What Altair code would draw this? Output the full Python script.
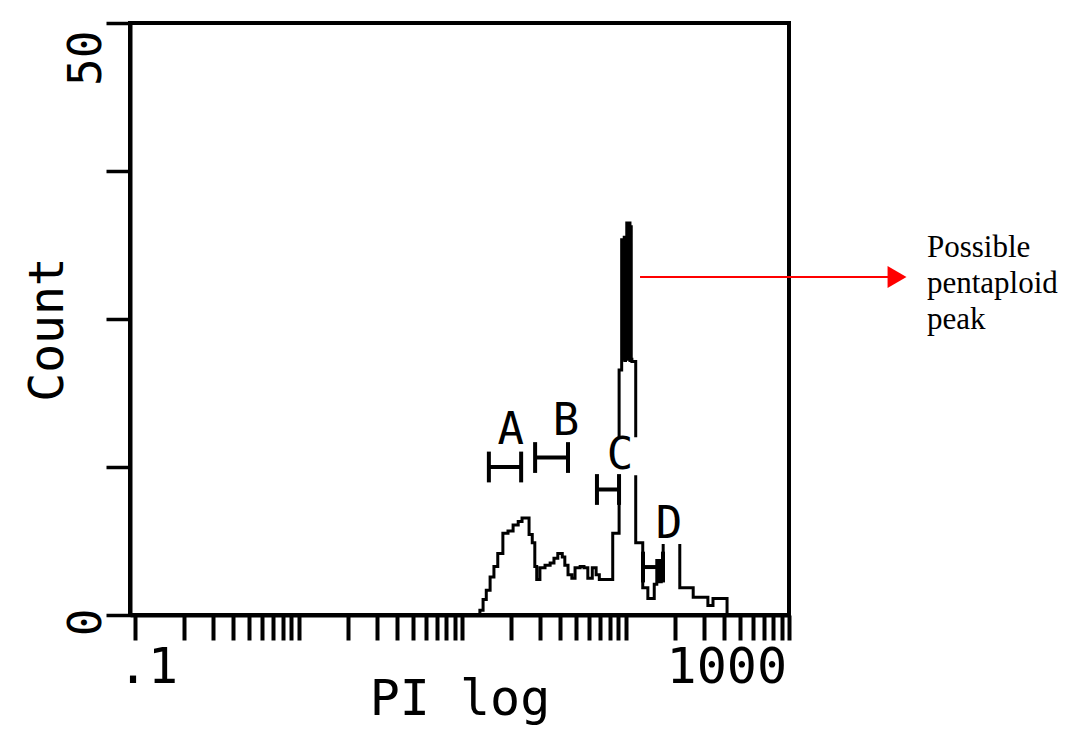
import altair as alt
import pandas as pd

# PI histogram: channel number on a 1024-channel, four-decade log scale (.1 - 1000),
# and the event count held from that channel up to the next listed one.
channel = [0, 540, 545, 550, 556, 562, 568, 576, 584, 592, 600, 606, 617, 622, 626, 629,
           634, 642, 650, 656, 662, 669, 673, 678, 684, 689, 697, 703, 709, 716, 722, 727,
           748, 758,
           762, 763, 764, 765, 766, 767, 768, 769, 770, 771, 772, 773, 774, 775, 776, 777,
           778, 784, 795, 803, 813, 817, 820, 824, 827, 838, 845, 853, 874, 897, 905, 927, 1024]
count = [0, 0.4, 1.3, 2.1, 3.2, 4.1, 5.2, 6.9, 7.1, 7.6, 7.9, 8.2, 6.8, 6.1, 4.1, 3.0,
         4.0, 4.2, 4.4, 4.8, 5.2, 4.9, 4.2, 3.4, 3.1, 4.0, 4.1, 4.0, 3.1, 4.0, 3.4, 3.0,
         6.9, 20.7,
         31.7, 21.6, 31.5, 21.8, 31.9, 21.5, 31.6, 21.7, 33.1, 21.6, 33.0, 21.8, 33.1, 21.5, 32.8, 21.6,
         21.4, 6.1, 2.3, 1.4, 2.6, 4.6, 2.8, 4.6, 7.0, 8.0, 6.8, 2.3, 1.5, 0.8, 1.4, 0, 0]

# Gated regions A-D: PI range, bar height (count) and letter position
gate_name = ["A", "B", "C", "D"]
gate_lo = [14.6, 28.0, 66.9, 127.9]
gate_hi = [23.0, 44.5, 91.3, 169.6]
gate_level = [12.5, 13.3, 10.6, 4.05]
gate_label_pi = [19.9, 43.3, 92.6, 184.5]
gate_label_count = [15.5, 16.3, 13.4, 7.6]

# Axis ticks and end labels
x_ticks = [m * 10.0 ** k for k in range(-1, 3) for m in range(1, 10)] + [1000.0]
y_ticks = [0, 12.5, 25, 37.5, 50]
x_end_labels = [".1", "1000"]
x_end_values = [0.1, 1000.0]

# Call-out for the tall peak
note_lines = ["Possible", "pentaploid", "peak"]
arrow_start_pi = 122.7
arrow_end_pi = 4032.0
arrow_head_pi = 4578.0
arrow_count = 28.55
note_pi = 6982.0
note_count = 30.24

hist_df = pd.DataFrame({"channel": channel, "count": count})
gate_df = pd.DataFrame({
    "name": gate_name, "lo": gate_lo, "hi": gate_hi, "level": gate_level,
    "label_pi": gate_label_pi, "label_count": gate_label_count,
})

MONO = "DejaVu Sans Mono"
x_scale = alt.Scale(type="log", domain=[0.0932, 1000], nice=False)
y_scale = alt.Scale(domain=[0, 50], nice=False, zero=False)

x_axis = alt.Axis(
    values=x_ticks, labels=False, grid=False,
    tickSize=25, tickWidth=4, tickColor="black",
    domain=True, domainWidth=4, domainColor="black",
    title="PI log", titleFont=MONO, titleFontSize=50, titleFontWeight="normal",
    titleColor="black", titleY=99, titleBaseline="alphabetic",
)
y_axis = alt.Axis(
    values=y_ticks, grid=False,
    labelExpr="datum.value == 0 || datum.value == 50 ? datum.label : ''",
    labelAngle=270,
    labelAlign={"condition": {"test": "datum.value == 50", "value": "right"}, "value": "center"},
    labelBaseline="alphabetic", labelOffset=7, labelPadding=6,
    labelFont=MONO, labelFontSize=46, labelColor="black",
    tickSize=24, tickWidth=3.5, tickColor="black",
    domain=True, domainWidth=4, domainColor="black",
    title="Count", titleFont=MONO, titleFontSize=48, titleFontWeight="normal",
    titleColor="black", titleAngle=270, titleX=-68, titleY=306,
    titleBaseline="alphabetic", titleAlign="center",
)

hist = alt.Chart(hist_df).transform_calculate(
    pi="pow(10, datum.channel / 256 - 1)"
).mark_line(interpolate="step-after", color="black", strokeWidth=3).encode(
    x=alt.X("pi:Q", scale=x_scale, axis=x_axis),
    y=alt.Y("count:Q", scale=y_scale, axis=y_axis),
)

x_labels_df = pd.DataFrame({"pi": x_end_values, "text": x_end_labels, "zero": [0, 0]})
x_label_left = alt.Chart(x_labels_df.iloc[[0]]).mark_text(
    font=MONO, fontSize=50, align="left", baseline="alphabetic", dx=-17, dy=68, color="black"
).encode(x=alt.X("pi:Q", scale=x_scale), y=alt.Y("zero:Q", scale=y_scale), text="text:N")
x_label_right = alt.Chart(x_labels_df.iloc[[1]]).mark_text(
    font=MONO, fontSize=50, align="right", baseline="alphabetic", dx=-2, dy=68, color="black"
).encode(x=alt.X("pi:Q", scale=x_scale), y=alt.Y("zero:Q", scale=y_scale), text="text:N")

gate_base = alt.Chart(gate_df).transform_calculate(
    bottom="datum.level - 1.3", top="datum.level + 1.3"
)
gate_bar = gate_base.mark_rule(color="black", strokeWidth=4).encode(
    x=alt.X("lo:Q", scale=x_scale), x2="hi:Q", y=alt.Y("level:Q", scale=y_scale)
)
gate_left = gate_base.mark_rule(color="black", strokeWidth=4).encode(
    x=alt.X("lo:Q", scale=x_scale), y=alt.Y("bottom:Q", scale=y_scale), y2="top:Q"
)
gate_right = gate_base.mark_rule(color="black", strokeWidth=4).encode(
    x=alt.X("hi:Q", scale=x_scale), y=alt.Y("bottom:Q", scale=y_scale), y2="top:Q"
)
gate_box = alt.Chart(gate_df).mark_square(
    color="white", opacity=1, size=38 * 38
).encode(x=alt.X("label_pi:Q", scale=x_scale), y=alt.Y("label_count:Q", scale=y_scale))
gate_text = alt.Chart(gate_df).mark_text(
    font=MONO, fontSize=44, align="center", baseline="middle", color="black"
).encode(
    x=alt.X("label_pi:Q", scale=x_scale), y=alt.Y("label_count:Q", scale=y_scale), text="name:N"
)

arrow_df = pd.DataFrame({"x1": [arrow_start_pi], "x2": [arrow_end_pi],
                         "head": [arrow_head_pi], "y": [arrow_count]})
arrow_line = alt.Chart(arrow_df).mark_rule(color="#ff0000", strokeWidth=2).encode(
    x=alt.X("x1:Q", scale=x_scale), x2="x2:Q", y=alt.Y("y:Q", scale=y_scale)
)
arrow_head = alt.Chart(arrow_df).mark_point(
    shape="triangle-right", filled=True, color="#ff0000", opacity=1, size=480
).encode(x=alt.X("head:Q", scale=x_scale), y=alt.Y("y:Q", scale=y_scale))
note = alt.Chart(alt.Data(values=[{"pi": note_pi, "c": note_count, "lines": note_lines}])).mark_text(
    font="Liberation Serif", fontSize=31, align="left", baseline="alphabetic",
    lineHeight=36, color="black"
).encode(x=alt.X("pi:Q", scale=x_scale), y=alt.Y("c:Q", scale=y_scale), text="lines:N")

chart = alt.layer(
    hist, gate_box, gate_text, gate_bar, gate_left, gate_right,
    x_label_left, x_label_right, arrow_line, arrow_head, note,
).properties(
    width=659, height=592,
    padding={"left": 130, "top": 23, "right": 279, "bottom": 114},
    autosize=alt.AutoSizeParams(type="none"),
    background="white",
).configure_view(stroke="black", strokeWidth=4)

chart.save("out.html", embed_options={"renderer": "svg", "actions": False})
